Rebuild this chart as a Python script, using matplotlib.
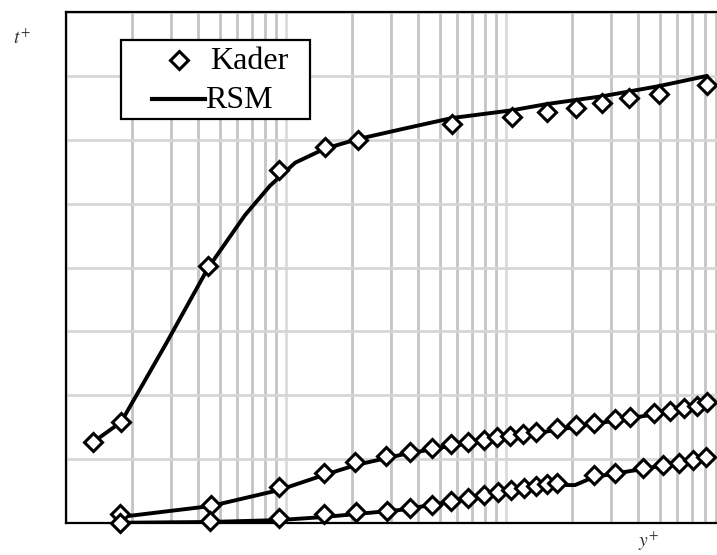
import matplotlib
matplotlib.use("Agg")
from matplotlib import pyplot as plt
from matplotlib.lines import Line2D
from matplotlib.patches import Rectangle
from matplotlib.ticker import LogLocator, MultipleLocator, NullFormatter

# Kader data, three profiles
kader_hi_x = [1.33, 1.78, 4.42, 9.3, 15.0, 21.2, 56.8, 106, 154, 208, 273, 362, 496, 820]
kader_hi_t = [6.34, 7.9, 20.1, 27.6, 29.4, 30.0, 31.2, 31.8, 32.2, 32.5, 32.9, 33.3, 33.6, 34.3]

kader_mid_x = [1.76, 4.56, 9.3, 14.9, 20.6, 28.5, 36.6, 46.1, 56.2, 67.2, 79.4, 91, 104, 119,
               137, 170, 208, 251, 313, 366, 471, 556, 645, 738, 820]
kader_mid_t = [0.70, 1.41, 2.82, 3.91, 4.77, 5.24, 5.56, 5.87, 6.18, 6.34, 6.49, 6.73, 6.81, 6.96,
               7.12, 7.43, 7.67, 7.83, 8.14, 8.29, 8.61, 8.76, 9.0, 9.16, 9.47]

kader_lo_x = [1.76, 4.51, 9.3, 14.9, 20.8, 28.8, 36.6, 46.1, 56.2, 67.2, 79.4, 92, 105, 121,
              137, 154, 170, 251, 313, 420, 517, 611, 708, 811]
kader_lo_t = [0.0, 0.16, 0.39, 0.70, 0.86, 0.94, 1.17, 1.41, 1.72, 1.96, 2.19, 2.43, 2.58, 2.74,
              2.90, 3.05, 3.13, 3.76, 3.91, 4.30, 4.54, 4.70, 4.93, 5.16]

# RSM curves
rsm_hi_x = [1.33, 1.78, 2.82, 4.42, 6.51, 8.46, 11.0, 15.0, 21.2, 33, 56.8, 106, 154, 273, 496, 820]
rsm_hi_t = [6.34, 7.9, 13.9, 19.95, 24.1, 26.4, 28.2, 29.3, 30.05, 30.8, 31.7, 32.3, 32.8, 33.4, 34.2, 35.0]

rsm_mid_x = [1.76, 4.56, 9.3, 14.9, 20.8, 33, 55.6, 94, 158, 267, 451, 820]
rsm_mid_t = [0.47, 1.33, 2.58, 3.76, 4.54, 5.32, 6.03, 6.57, 7.2, 7.83, 8.45, 9.31]

rsm_lo_x = [1.76, 4.51, 9.3, 14.9, 20.8, 33, 55.6, 94, 170, 206, 251, 420, 811]
rsm_lo_t = [0.02, 0.08, 0.23, 0.47, 0.70, 1.02, 1.64, 2.27, 2.97, 2.97, 3.6, 4.23, 5.09]

plt.rcParams['font.family'] = ['Liberation Serif', 'DejaVu Serif']
plt.rcParams['mathtext.fontset'] = 'stix'

W, H = 717, 555
fig = plt.figure(figsize=(W / 100, H / 100), dpi=100)
# right edge of the axes lies just beyond the figure, as in the cropped original
ax = fig.add_axes([66/W, 32/H, 660/W, 511/H])

ax.set_xscale('log')
ax.set_xlim(1, 1000)
ax.set_ylim(0, 40)

ax.xaxis.set_major_locator(LogLocator(base=10, numticks=10))
ax.xaxis.set_minor_locator(LogLocator(base=10, subs=range(2, 10), numticks=20))
ax.xaxis.set_minor_formatter(NullFormatter())
ax.yaxis.set_major_locator(MultipleLocator(5))
ax.tick_params(which='both', length=0, labelbottom=False, labelleft=False)

ax.grid(True, which='major', axis='x', color='#dadada', lw=2)
ax.grid(True, which='minor', axis='x', color='#c4c4c4', lw=2)
ax.grid(True, which='major', axis='y', color='#d6d6d6', lw=2)
ax.set_axisbelow(True)

for s in ['left', 'top', 'bottom']:
    ax.spines[s].set_linewidth(1.6)
    ax.spines[s].set_color('black')
ax.spines['right'].set_visible(False)

line_kw = dict(color='black', lw=2.8, zorder=3, solid_capstyle='round')
ax.plot(rsm_hi_x, rsm_hi_t, **line_kw)
ax.plot(rsm_mid_x, rsm_mid_t, **line_kw)
ax.plot(rsm_lo_x, rsm_lo_t, **line_kw)

mk_kw = dict(ls='none', marker='D', ms=9, mfc='white', mec='black', mew=2.2, zorder=4, clip_on=False)
ax.plot(kader_hi_x, kader_hi_t, **mk_kw)
ax.plot(kader_mid_x, kader_mid_t, **mk_kw)
ax.plot(kader_lo_x, kader_lo_t, **mk_kw)


# legend box drawn by hand (pixel positions -> figure fraction)
def fx(px):
    return px / W


def fy(py):
    return 1 - py / H


fig.add_artist(Rectangle((fx(121), fy(119)), fx(310) - fx(121), fy(40) - fy(119),
                         transform=fig.transFigure, facecolor='white', edgecolor='black',
                         lw=1.6, zorder=5))
fig.add_artist(Line2D([fx(179)], [fy(60)], transform=fig.transFigure, ls='none', marker='D',
                      ms=9, mfc='white', mec='black', mew=2.2, zorder=6))
fig.add_artist(Line2D([fx(152), fx(205)], [fy(99), fy(99)], transform=fig.transFigure,
                      color='black', lw=3.0, zorder=6))
fig.text(fx(210), fy(69), 'Kader', fontsize=23, va='baseline', ha='left', zorder=6)
fig.text(fx(205), fy(108), 'RSM', fontsize=23, va='baseline', ha='left', zorder=6)

fig.text(fx(13), fy(44), '$t^{+}$', fontsize=14, color='#333333')
fig.text(fx(638), fy(553), '$y^{+}$', fontsize=14, color='#333333', va='bottom')

fig.savefig('out.png', dpi=100)
